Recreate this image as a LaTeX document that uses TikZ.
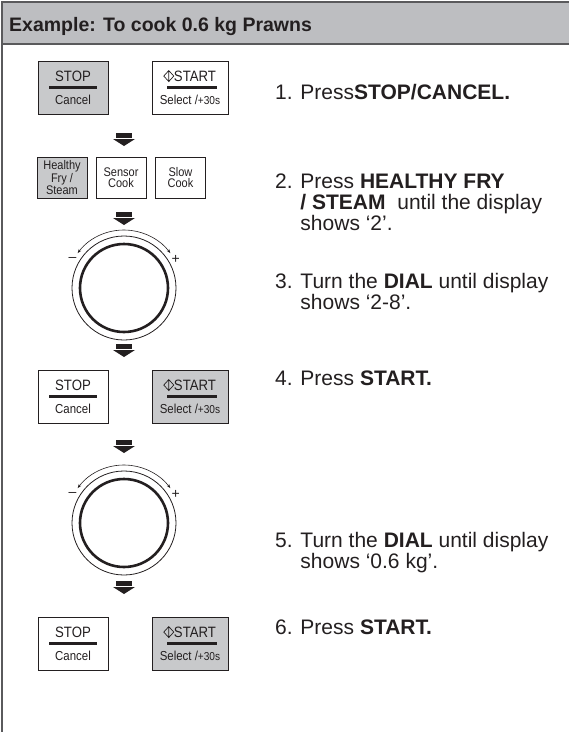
\documentclass[tikz,border=0pt]{standalone}
\usepackage{fontspec}
\setmainfont{Liberation Sans}
\newfontfamily\keyfont[FakeStretch=0.88]{Liberation Sans}
\usetikzlibrary{calc,arrows.meta}

\definecolor{panelgray}{HTML}{BDBEC1}
\definecolor{keygray}{HTML}{C8C9CB}
\definecolor{framegray}{HTML}{5A5A5C}
\definecolor{inkblack}{HTML}{231F20}

\tikzset{
  key/.style={draw=inkblack, line width=0.9pt, minimum height=53pt, inner sep=0pt},
  smallkey/.style={draw=inkblack, line width=0.9pt, minimum width=50pt, minimum height=41pt,
    inner sep=0pt, align=center, font=\keyfont\fontsize{12.5}{11.5}\selectfont, text=inkblack},
  keylabel/.style={inner sep=0pt, anchor=base, text=inkblack, font=\keyfont\fontsize{15}{15}\selectfont},
  keysub/.style={inner sep=0pt, anchor=base, text=inkblack, font=\keyfont\fontsize{13}{13}\selectfont},
  steptext/.style={inner sep=0pt, anchor=base west, text=inkblack, font=\fontsize{21}{22}\selectfont},
  dialsign/.style={inner sep=0pt, text=inkblack, font=\fontsize{14}{14}\selectfont}
}

\begin{document}
\begin{tikzpicture}[x=1pt, y=1pt, line join=miter]
    \useasboundingbox (0,0) rectangle (569,-732);

    \draw [fill=panelgray, draw=framegray, line width=1.5pt] (2,-2) rectangle (575,-44);
    \draw [framegray, line width=1.5pt] (2,-44) -- (2,-735);
    \node [anchor=base west, inner sep=0pt, text=inkblack, font=\bfseries\fontsize{19.5}{19.5}\selectfont]
        (title) at (9,-31) {Example: To cook 0.6 kg Prawns};

    % STOP / START keys
    \foreach \ky/\stopfill/\startfill [count=\k] in {61/keygray/white, 370/white/keygray, 617/white/keygray} {
        \node [key, fill=\stopfill, minimum width=70pt] (stop\k) at (73,{-\ky-26.5}) {};
        \node [keylabel] (stoptop\k) at ($(stop\k.north)+(0,-21)$) {STOP};
        \draw [inkblack, line width=2.8pt] ($(stop\k.north)+(-24,-27)$) -- ++(48,0);
        \node [keysub] (stopsub\k) at ($(stop\k.north)+(0,-44)$) {Cancel};

        \node [key, fill=\startfill, minimum width=76pt] (start\k) at (190,{-\ky-26.5}) {};
        \node [keylabel] (starttop\k) at ($(start\k.north)+(5,-21)$) {START};
        \draw [inkblack, line width=0.7pt] ($(starttop\k.base west)+(-10,5.5)$) -- ++(5,5.5) -- ++(5,-5.5)
            -- ++(-5,-5.5) -- cycle ++(5,5.5) -- ++(0,-11);
        \draw [inkblack, line width=2.8pt] ($(start\k.north)+(-23,-27)$) -- ++(50,0);
        \node [keysub] (startsub\k) at ($(start\k.north)+(0,-44)$) {Select /{\fontsize{11.5}{11.5}\selectfont+30s}};
    }

    % cooking mode keys
    \node [smallkey, fill=keygray] (fry) at (62,-177.5) {Healthy\\Fry /\\Steam};
    \node [smallkey, fill=white] (sensor) at (121,-177.5) {Sensor\\Cook};
    \node [smallkey, fill=white] (slow) at (180.5,-177.5) {Slow\\Cook};

    % dials
    \foreach \cy [count=\d] in {288,523} {
        \coordinate (dial\d) at (124,-\cy);
        \draw [inkblack, line width=0.8pt] (dial\d) circle [radius=52];
        \draw [inkblack, line width=2.6pt] (dial\d) circle [radius=44];
        \draw [inkblack, line width=0.6pt, {Stealth[length=4pt,width=3pt]}-{Stealth[length=4pt,width=3pt]}]
            ($(dial\d)+(143:58)$) arc [start angle=143, end angle=37, radius=58];
        \node [dialsign] (minus\d) at ($(dial\d)+(151:59)$) {–};
        \node [dialsign] (plus\d) at ($(dial\d)+(29:59)$) {+};
    }

    % down arrows
    \foreach \ay in {133,212,344,440,581} {
        \fill [inkblack] (116,-\ay) rectangle (132,{-\ay-5});
        \fill [inkblack] (113,{-\ay-6}) -- (135,{-\ay-6}) -- (124,{-\ay-13}) -- cycle;
    }

    % steps
    \node [steptext] (step1) at (275,-99) {1. Press\textbf{STOP/CANCEL.}};
    \node [steptext] (step2a) at (275,-188) {2. Press \textbf{HEALTHY FRY}};
    \node [steptext] (step2b) at (275,-209) {\phantom{2. }\textbf{/ STEAM}\ \ until the display};
    \node [steptext] (step2c) at (275,-230) {\phantom{2. }shows ‘2’.};
    \node [steptext] (step3a) at (275,-288) {3. Turn the \textbf{DIAL} until display};
    \node [steptext] (step3b) at (275,-309) {\phantom{3. }shows ‘2-8’.};
    \node [steptext] (step4) at (275,-385) {4. Press \textbf{START.}};
    \node [steptext] (step5a) at (275,-547) {5. Turn the \textbf{DIAL} until display};
    \node [steptext] (step5b) at (275,-568) {\phantom{5. }shows ‘0.6 kg’.};
    \node [steptext] (step6) at (275,-634) {6. Press \textbf{START.}};
\end{tikzpicture}
\end{document}
